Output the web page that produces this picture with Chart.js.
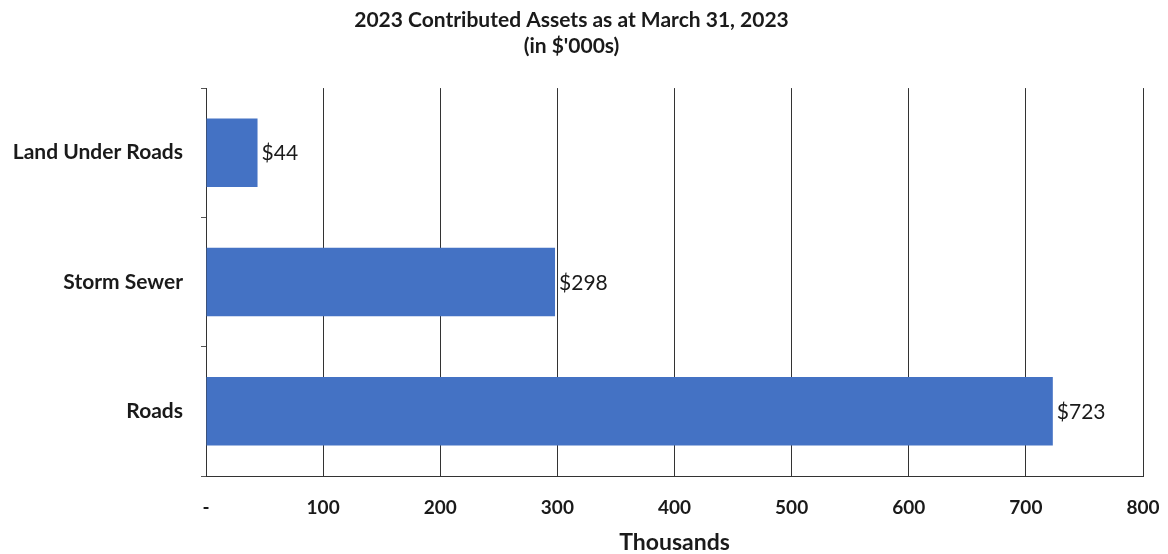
<!DOCTYPE html>
<html>
<head>
<meta charset="utf-8">
<script src="https://cdn.jsdelivr.net/npm/chart.js@4"></script>
<style>
  html, body { margin: 0; padding: 0; background: #fff; }
  #wrap { width: 1168px; height: 554px; }
</style>
</head>
<body>
<div id="wrap"><canvas id="myChart" width="1168" height="554"></canvas></div>
<script>
// datos
var categorias = ['Land Under Roads', 'Storm Sewer', 'Roads'];
var valores = [44, 298, 723];
var etiquetasX = ['-', '100', '200', '300', '400', '500', '600', '700', '800'];
var titulo = ['2023 Contributed Assets as at March 31, 2023', "(in $'000s)"];

// pinta el "$valor" al final de cada barra
const etiquetasBarras = {
  id: 'etiquetasBarras',
  afterDatasetsDraw(chart) {
    var ctx = chart.ctx;
    var meta = chart.getDatasetMeta(0);
    ctx.save();
    ctx.font = '21px Lato';
    ctx.fillStyle = '#1a1a1a';
    ctx.textAlign = 'left';
    ctx.textBaseline = 'middle';
    meta.data.forEach((bar, i) => {
      ctx.fillText('$' + valores[i], bar.x + 4, bar.y + 1);
    });
    ctx.restore();
  }
};

const data = {
  labels: categorias,
  datasets: [{
    data: valores,
    backgroundColor: '#4472c4',
    barPercentage: 0.53,
    categoryPercentage: 1
  }]
};

const config = {
  type: 'bar',
  data: data,
  options: {
    indexAxis: 'y',
    responsive: false,
    animation: false,
    layout: { padding: { left: 0, right: 25, top: 0, bottom: 0 } },
    plugins: {
      legend: { display: false },
      tooltip: { enabled: false },
      title: {
        display: true,
        text: titulo,
        color: '#1a1a1a',
        font: { family: 'Lato', size: 21, weight: 'bold', lineHeight: 1.24 },
        padding: { top: 7, bottom: 29 }
      }
    },
    scales: {
      x: {
        min: 0,
        max: 800,
        ticks: {
          stepSize: 100,
          padding: 0,
          color: '#1a1a1a',
          font: { family: 'Lato', size: 19, weight: 'bold' },
          callback: (v, i) => etiquetasX[i]
        },
        // las marcas invisibles dejan el hueco hasta los numeros
        grid: { color: '#333', lineWidth: 1, drawTicks: true, tickLength: 20, tickColor: 'rgba(0,0,0,0)' },
        border: { display: true, color: '#333', width: 1 },
        title: {
          display: true,
          text: 'Thousands',
          color: '#1a1a1a',
          font: { family: 'Lato', size: 23, weight: 'bold', lineHeight: 1.0 },
          padding: { top: 0, bottom: 0 }
        },
        afterFit: (scale) => { scale.height = 78; }
      },
      y: {
        ticks: {
          padding: 18,
          color: '#1a1a1a',
          font: { family: 'Lato', size: 21, weight: 'bold' }
        },
        grid: { drawOnChartArea: false, tickLength: 5, color: '#555', offset: true },
        border: { display: true, color: '#333', width: 1 },
        afterFit: (scale) => { scale.width = 206; }
      }
    }
  },
  plugins: [etiquetasBarras]
};

var myChart = new Chart(document.getElementById('myChart'), config);
</script>
</body>
</html>
